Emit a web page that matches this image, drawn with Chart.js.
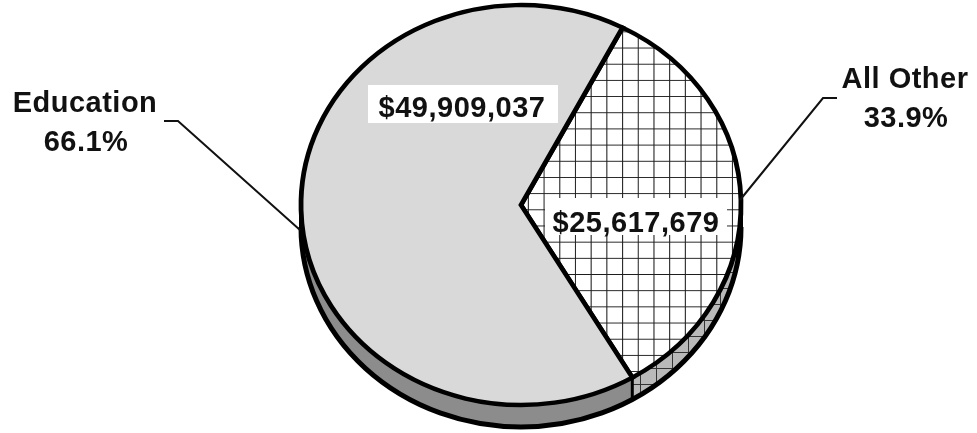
<!DOCTYPE html>
<html>
<head>
<meta charset="utf-8">
<script src="https://cdn.jsdelivr.net/npm/chart.js@4/dist/chart.umd.min.js"></script>
<style>
  html, body { margin: 0; padding: 0; background: #ffffff; }
  #wrap { position: relative; width: 977px; height: 433px; }
</style>
</head>
<body>
<div id="wrap"><canvas id="c"></canvas></div>
<script>
// ---- data ----
const categories = ['All Other', 'Education'];
const values = [25617679, 49909037];
const startRotation = 27.5; // degrees clockwise from 12 o'clock where first slice starts

// ---- derived labels ----
const total = values.reduce((a, b) => a + b, 0);
const pctLabels = values.map(v => (v / total * 100).toFixed(1) + '%');
const moneyLabels = values.map(v => '$' + v.toLocaleString('en-US'));

// ---- layout (pixels) ----
const CX = 521, CY = 205, RX = 220, RY = 200, DEPTH = 22;
const FONT = 'bold 29px "Liberation Sans", Arial, sans-serif';
const labelLayout = [
  { name: [905, 88], pct: [906, 127], money: [636, 232], box: [545, 198, 182, 37],
    leader: [[837, 98], [823, 98], [740, 200]] },
  { name: [85, 112], pct: [86, 151], money: [462, 117], box: [368, 85, 190, 38],
    leader: [[164, 121], [178, 121], [300, 230]] }
];

// ---- fills ----
function gridPattern(bg, line, w, h) {
  const c = document.createElement('canvas');
  c.width = w; c.height = h;
  const g = c.getContext('2d');
  g.fillStyle = bg; g.fillRect(0, 0, w, h);
  g.fillStyle = line;
  g.fillRect(0, 0, w, 1);
  g.fillRect(0, 0, 1, h);
  return g.createPattern(c, 'repeat');
}
const topFills = [gridPattern('#ffffff', '#1e1e1e', 15, 17), '#d9d9d9'];
const rimFills = [gridPattern('#b9b9b9', '#333333', 16, 16), '#8c8c8c'];

const pie3d = {
  id: 'pie3d',
  beforeDatasetsDraw(chart) {
    const ctx = chart.ctx;
    const arcs = chart.getDatasetMeta(0).data;
    if (!arcs.length) return;
    const TWO = Math.PI * 2;
    // rim (side band) for the front half
    ctx.save();
    arcs.forEach((arc, i) => {
      const s = arc.startAngle, e = arc.endAngle;
      for (let k = -1; k <= 2; k++) {
        const lo = Math.max(s, TWO * k), hi = Math.min(e, TWO * k + Math.PI);
        if (hi > lo) {
          ctx.beginPath();
          ctx.ellipse(CX, CY, RX, RY, 0, lo, hi, false);
          ctx.ellipse(CX, CY + DEPTH, RX, RY, 0, hi, lo, true);
          ctx.closePath();
          ctx.fillStyle = rimFills[i];
          ctx.fill();
        }
      }
    });
    ctx.strokeStyle = '#000';
    ctx.lineWidth = 5;
    ctx.beginPath();
    ctx.ellipse(CX, CY + DEPTH, RX, RY, 0, 0, Math.PI, false);
    ctx.stroke();
    ctx.lineWidth = 4;
    ctx.beginPath();
    ctx.moveTo(CX + RX, CY); ctx.lineTo(CX + RX, CY + DEPTH);
    ctx.moveTo(CX - RX, CY); ctx.lineTo(CX - RX, CY + DEPTH);
    ctx.stroke();
    // slice boundary edges on the side band
    ctx.lineWidth = 3;
    arcs.forEach(arc => {
      let a = arc.startAngle % TWO; if (a < 0) a += TWO;
      if (a > 0 && a < Math.PI) {
        const x = CX + RX * Math.cos(a), y = CY + RY * Math.sin(a);
        ctx.beginPath(); ctx.moveTo(x, y); ctx.lineTo(x, y + DEPTH); ctx.stroke();
      }
    });
    ctx.restore();
    // map the library's circle onto the top ellipse
    const a0 = arcs[0];
    const r = a0.outerRadius;
    ctx.save();
    ctx.translate(CX, CY);
    ctx.scale(RX / r, RY / r);
    ctx.translate(-a0.x, -a0.y);
  },
  afterDatasetsDraw(chart) {
    const ctx = chart.ctx;
    ctx.restore();
    ctx.save();
    ctx.font = FONT;
    if ('letterSpacing' in ctx) ctx.letterSpacing = '0.5px';
    ctx.textAlign = 'center';
    ctx.textBaseline = 'alphabetic';
    labelLayout.forEach((L, i) => {
      // white boxes behind values
      ctx.fillStyle = '#ffffff';
      ctx.fillRect(L.box[0], L.box[1], L.box[2], L.box[3]);
      ctx.fillStyle = '#111111';
      ctx.fillText(moneyLabels[i], L.money[0], L.money[1]);
      ctx.fillText(categories[i], L.name[0], L.name[1]);
      ctx.fillText(pctLabels[i], L.pct[0], L.pct[1]);
      ctx.strokeStyle = '#111111';
      ctx.lineWidth = 2;
      ctx.beginPath();
      L.leader.forEach((p, j) => j ? ctx.lineTo(p[0], p[1]) : ctx.moveTo(p[0], p[1]));
      ctx.stroke();
    });
    ctx.restore();
  }
};

new Chart(document.getElementById('c'), {
  type: 'pie',
  data: {
    labels: categories,
    datasets: [{
      data: values,
      backgroundColor: topFills,
      borderColor: '#000000',
      borderWidth: 4.6,
      borderJoinStyle: 'miter',
      clip: false,
      hoverOffset: 0
    }]
  },
  options: {
    responsive: true,
    maintainAspectRatio: false,
    animation: false,
    events: [],
    rotation: startRotation,
    layout: { padding: 4 },
    plugins: { legend: { display: false }, tooltip: { enabled: false } }
  },
  plugins: [pie3d]
});
</script>
</body>
</html>
